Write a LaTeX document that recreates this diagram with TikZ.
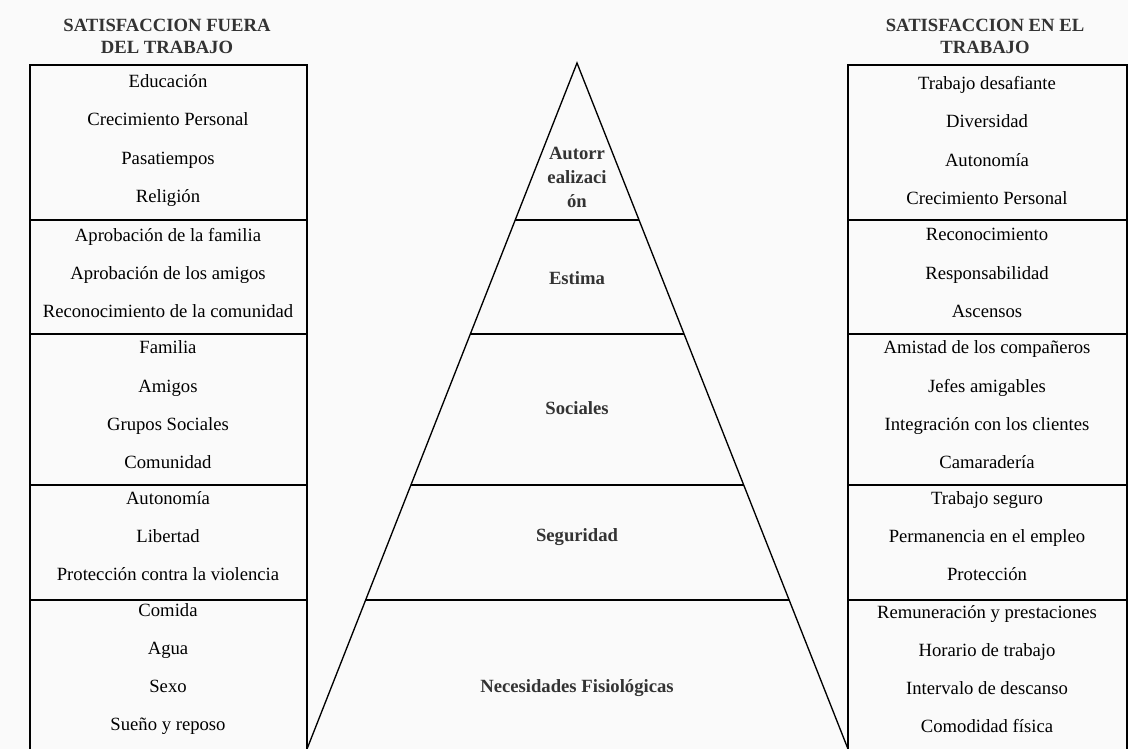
\documentclass[tikz,border=0pt]{standalone}
\usepackage{fontspec}
\setmainfont{Liberation Serif}
\usetikzlibrary{calc}

\tikzset{
    item/.style={align=center, inner sep=0pt, font=\fontsize{14}{28.7}\selectfont},
    level/.style={align=center, inner sep=0pt, text=black!80, font=\bfseries\fontsize{14}{18}\selectfont},
    heading/.style={align=center, inner sep=0pt, text=black!80, font=\bfseries\fontsize{14}{16.5}\selectfont},
    frame/.style={line width=1pt},
}

\begin{document}
\begin{tikzpicture}[x=0.75pt, y=-0.75pt]
    \useasboundingbox[fill=black!2] (0,0) rectangle (1128,749);

    % cajas laterales
    \coordinate (lbl) at (30,749);
    \coordinate (ltl) at (30,65);
    \coordinate (ltr) at (307,65);
    \coordinate (lbr) at (307,749);
    \coordinate (rbl) at (848,749);
    \coordinate (rtl) at (848,65);
    \coordinate (rtr) at (1127,65);
    \coordinate (rbr) at (1127,749);
    \draw[frame] (lbl) -- (ltl) -- (ltr) -- (lbr);
    \draw[frame] (rbl) -- (rtl) -- (rtr) -- (rbr);
    \foreach \y in {220,334,485,600} {
        \draw[frame] (30,\y) -- (307,\y);
        \draw[frame] (848,\y) -- (1127,\y);
    }

    % piramide
    \coordinate (apex) at (577,63);
    \draw[frame] (lbr) -- (apex) -- (rbl);
    \foreach \y in {220,334,485,600} {
        \draw[frame] ($(apex)!{(\y-63)/686}!(lbr)$) -- ($(apex)!{(\y-63)/686}!(rbl)$);
    }

    % titulos
    \node[heading] (fuera) at (167,36) {SATISFACCION FUERA\\DEL TRABAJO};
    \node[heading] (dentro) at (985,36) {SATISFACCION EN EL\\TRABAJO};

    % niveles
    \node[level] (autorr) at (577,177) {Autorr\\ealizaci\\ón};
    \node[level] (estima) at (577,278) {Estima};
    \node[level] (sociales) at (577,408) {Sociales};
    \node[level] (seguridad) at (577,537) {Seguridad};
    \node[level] (fisio) at (577,688) {Necesidades Fisiológicas};

    % fuera del trabajo
    \node[item] (f1) at (168,140.5) {Educación\\Crecimiento Personal\\Pasatiempos\\Religión};
    \node[item] (f2) at (168,273) {Aprobación de la familia\\Aprobación de los amigos\\Reconocimiento de la comunidad};
    \node[item] (f3) at (168,405) {Familia\\Amigos\\Grupos Sociales\\Comunidad};
    \node[item] (f4) at (168,536) {Autonomía\\Libertad\\Protección contra la violencia};
    \node[item] (f5) at (168,669) {Comida\\Agua\\Sexo\\Sueño y reposo};

    % en el trabajo
    \node[item] (t1) at (987,140.5) {Trabajo desafiante\\Diversidad\\Autonomía\\Crecimiento Personal};
    \node[item] (t2) at (987,273) {Reconocimiento\\Responsabilidad\\Ascensos};
    \node[item] (t3) at (987,405) {Amistad de los compañeros\\Jefes amigables\\Integración con los clientes\\Camaradería};
    \node[item] (t4) at (987,536) {Trabajo seguro\\Permanencia en el empleo\\Protección};
    \node[item] (t5) at (987,669) {Remuneración y prestaciones\\Horario de trabajo\\Intervalo de descanso\\Comodidad física};
\end{tikzpicture}
\end{document}
